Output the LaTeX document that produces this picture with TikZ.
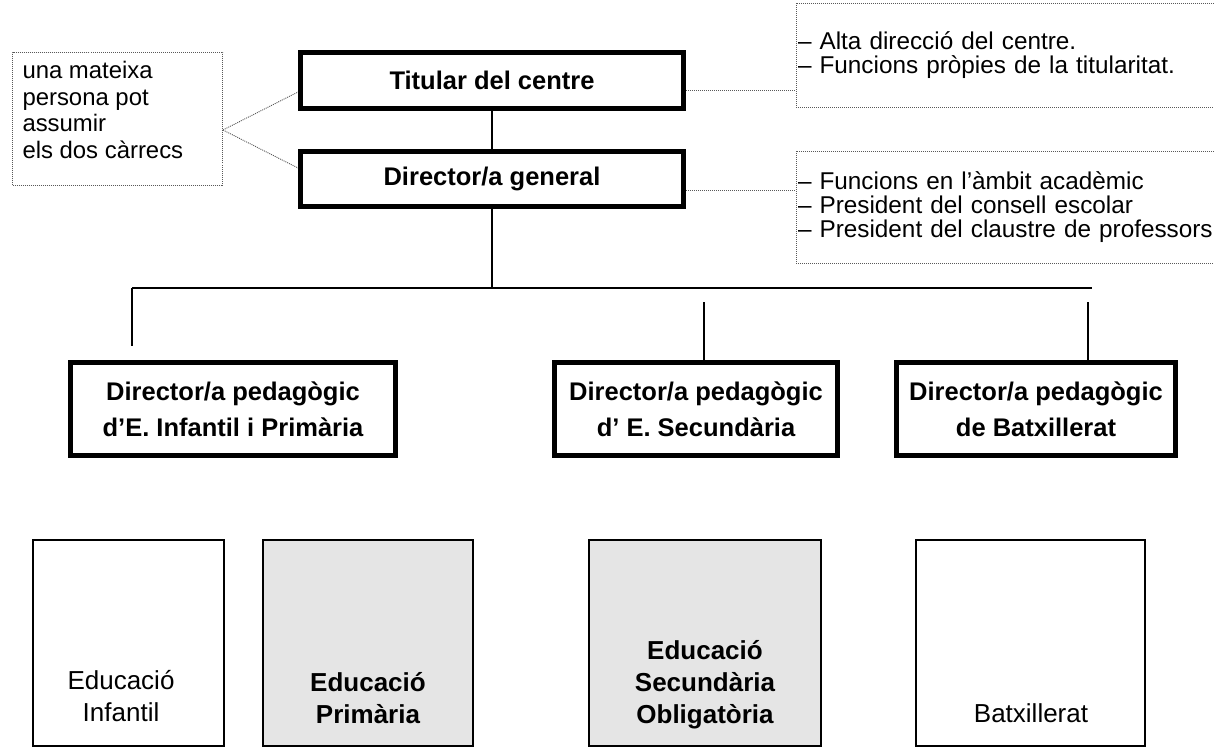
\documentclass[tikz,border=0pt]{standalone}
\usepackage{fontspec}
\setmainfont{Liberation Sans}
\usepackage{tikz}
\usetikzlibrary{positioning}

\tikzset{
  chief/.style={draw=black, line width=5pt, align=center, inner sep=0pt,
    font=\fontsize{25.5}{36}\selectfont\bfseries},
  notebox/.style={draw=black!65, line width=0.9pt, dash pattern=on 1pt off 1pt,
    align=left, inner ysep=0pt, font=\fontsize{24.3}{24}\selectfont},
  noteline/.style={draw=black!65, line width=0.9pt, dash pattern=on 1pt off 1pt},
  conn/.style={line width=2.5pt},
  stage/.style={draw=black, line width=2pt, inner sep=0pt, minimum height=206pt},
  stagetext/.style={align=center, inner sep=0pt, font=\fontsize{26}{32}\selectfont}
}

\begin{document}
\begin{tikzpicture}[x=1pt,y=-1pt]
        \useasboundingbox (0,0) rectangle (1214,749);
        \clip (0,0) rectangle (1214,749);

        \node[chief, minimum width=383pt, minimum height=56pt] (titular) at (492,80.5) {Titular del centre};
        \node[chief, minimum width=383pt, minimum height=55pt] (dirgen) at (492,179) {Director/a general};

        \node[chief, minimum width=325pt, minimum height=93pt] (pedinf) at (233,409) {Director/a pedagògic\\d’E. Infantil i Primària};
        \node[chief, minimum width=283pt, minimum height=93pt] (pedsec) at (696,409) {Director/a pedagògic\\d’ E. Secundària};
        \node[chief, minimum width=279pt, minimum height=93pt] (pedbat) at (1036,409) {Director/a pedagògic\\de Batxillerat};

        % notes
        \node[notebox, minimum width=210pt, minimum height=133pt] (pair) at (117.5,119) {};
        \node[notebox, draw=none, anchor=west, inner xsep=0pt, font=\fontsize{23.9}{26.7}\selectfont]
            (pairtext) at ([xshift=10pt,yshift=9pt]pair.west) {una mateixa\\persona pot\\assumir\\els dos càrrecs};
        \node[notebox, text width=436pt, inner xsep=2pt, minimum height=104pt] (alta) at (1016,55)
            {– Alta direcció del centre.\\– Funcions pròpies de la titularitat.};
        \node[notebox, text width=436pt, inner xsep=2pt, minimum height=112pt] (acad) at (1016,207)
            {– Funcions en l’àmbit acadèmic\\– President del consell escolar\\– President del claustre de professors};

        \coordinate (pairR) at ([yshift=-11pt]pair.east);
        \draw[noteline] (pairR) -- ([yshift=-11.5pt]titular.west);
        \draw[noteline] (pairR) -- ([yshift=11pt]dirgen.west);
        \coordinate (titR) at ([yshift=-9.5pt]titular.east);
        \coordinate (dirR) at ([yshift=-11pt]dirgen.east);
        \draw[noteline] (titR) -- (titR -| alta.west);
        \draw[noteline] (dirR) -- (dirR -| acad.west);

        % tree
        \coordinate (barL) at (132,288);
        \coordinate (barR) at (1092,288);
        \coordinate (drop1) at (132,346);
        \coordinate (drop2) at (704,302);
        \coordinate (drop3) at (1088,302);
        \draw[conn] (titular.south) -- (dirgen.north);
        \draw[conn] (dirgen.south) -- (dirgen.south |- barL);
        \draw[conn] (barL) -- (barR);
        \draw[conn] (barL) -- (drop1);
        \draw[conn] (drop2) -- (drop2 |- pedsec.north);
        \draw[conn] (drop3) -- (drop3 |- pedbat.north);

        % stages
        \foreach \nm/\x/\w/\col in {inf/128.5/191/white, pri/368/210/black!10, eso/705/232/black!10, bat/1030.5/229/white}
        \node[stage, minimum width=\w pt, fill=\col] (\nm) at (\x,643) {};

        \node[stagetext] (infT) at (121,696) {Educació\\Infantil};
        \node[stagetext, font=\fontsize{26}{32}\selectfont\bfseries] (priT) at (368,698) {Educació\\Primària};
        \node[stagetext, font=\fontsize{26}{32}\selectfont\bfseries] (esoT) at (705,685) {Educació\\Secundària\\Obligatòria};
        \node[stagetext] (batT) at (1031,713) {Batxillerat};
    \end{tikzpicture}
\end{document}
